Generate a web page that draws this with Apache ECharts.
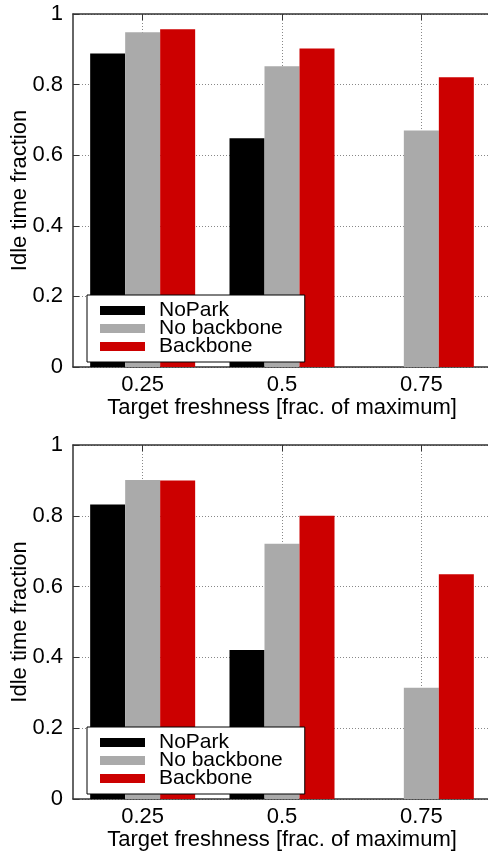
<!DOCTYPE html>
<html>
<head>
<meta charset="utf-8">
<title>Idle time fraction vs. target freshness</title>
<script src="https://cdn.jsdelivr.net/npm/echarts@6/dist/echarts.min.js"></script>
<style>
  html, body { margin: 0; padding: 0; background: #fff; }
  #chart { width: 488px; height: 851px; }
</style>
</head>
<body>
<div id="chart"></div>
<script>
// Target freshness levels (x positions of the bar groups)
const freshness = [0.25, 0.5, 0.75];
const xTicks = [0.25, 0.5, 0.75];
const yTicks = [0, 0.2, 0.4, 0.6, 0.8, 1];

const seriesNames = ['NoPark', 'No backbone', 'Backbone'];

// Upper panel
const noParkTop = [0.888, 0.648, 0];
const noBackboneTop = [0.948, 0.852, 0.670];
const backboneTop = [0.957, 0.902, 0.821];

// Lower panel
const noParkBottom = [0.832, 0.421, 0];
const noBackboneBottom = [0.901, 0.721, 0.314];
const backboneBottom = [0.900, 0.800, 0.635];

const colors = ['#000000', '#aaaaaa', '#cc0000'];
const FONT = 'Liberation Sans, Arial, Helvetica, sans-serif';
const AXIS_COLOR = '#333333';

const grids = [
  { left: 73, top: 14, width: 418, height: 353, outerBoundsMode: 'none', containLabel: false },
  { left: 73, top: 445, width: 418, height: 354, outerBoundsMode: 'none', containLabel: false }
];

function bottomX(gridIndex) {
  return {
    type: 'value', gridIndex, position: 'bottom',
    min: 0.125, max: 0.875,
    name: 'Target freshness [frac. of maximum]',
    nameLocation: 'middle', nameGap: 30, nameMoveOverlap: false,
    nameTextStyle: { fontFamily: FONT, fontSize: 22, color: '#000' },
    axisLine: { show: true, lineStyle: { color: AXIS_COLOR, width: 1.5 } },
    axisTick: { show: true, inside: true, length: 6, customValues: xTicks,
                lineStyle: { color: AXIS_COLOR, width: 1 } },
    axisLabel: { show: true, customValues: xTicks, margin: 7,
                 fontFamily: FONT, fontSize: 22, color: '#000',
                 formatter: v => String(v) },
    splitLine: { show: true, lineStyle: { color: '#888', width: 1, type: [1, 2] } }
  };
}

function topX(gridIndex) {
  return {
    type: 'value', gridIndex, position: 'top',
    min: 0.125, max: 0.875,
    axisLine: { show: true, lineStyle: { color: AXIS_COLOR, width: 1.5 } },
    axisTick: { show: true, inside: true, length: 6, customValues: xTicks,
                lineStyle: { color: AXIS_COLOR, width: 1 } },
    axisLabel: { show: false },
    splitLine: { show: false }
  };
}

function leftY(gridIndex) {
  return {
    type: 'value', gridIndex,
    min: 0, max: 1, interval: 0.2,
    name: 'Idle time fraction',
    nameLocation: 'middle', nameGap: 42, nameMoveOverlap: false,
    nameTextStyle: { fontFamily: FONT, fontSize: 22, color: '#000' },
    axisLine: { show: true, lineStyle: { color: AXIS_COLOR, width: 1.5 } },
    axisTick: { show: true, inside: true, length: 6,
                lineStyle: { color: AXIS_COLOR, width: 1 } },
    axisLabel: { margin: 10, fontFamily: FONT, fontSize: 22, color: '#000',
                 formatter: v => (yTicks.includes(+v.toFixed(1)) ? String(+v.toFixed(1)) : '') },
    splitLine: { show: true, lineStyle: { color: '#888', width: 1, type: [1, 2] } }
  };
}

function barSeries(name, values, color, axisIdx) {
  return {
    name, type: 'bar',
    xAxisIndex: axisIdx, yAxisIndex: axisIdx,
    data: freshness.map((x, i) => [x, values[i]]),
    barWidth: 35, barGap: '0%',
    itemStyle: { color },
    emphasis: { disabled: true },
    silent: true,
    z: 2
  };
}

function legendFor(top) {
  return {
    orient: 'vertical',
    left: 87, top,
    data: seriesNames,
    icon: 'rect',
    itemWidth: 45, itemHeight: 9, itemGap: -3,
    padding: [5, 22, 5, 13],
    backgroundColor: '#fff',
    borderColor: '#000', borderWidth: 1,
    textStyle: { fontFamily: FONT, fontSize: 21, color: '#000',
                 padding: [0, 0, 0, 9] },
    selectedMode: false,
    z: 10
  };
}

const chart = echarts.init(document.getElementById('chart'), null, { renderer: 'canvas' });
chart.setOption({
  animation: false,
  backgroundColor: '#fff',
  grid: grids,
  xAxis: [bottomX(0), bottomX(1), topX(0), topX(1)],
  yAxis: [leftY(0), leftY(1)],
  legend: [legendFor(295), legendFor(727)],
  series: [
    barSeries(seriesNames[0], noParkTop, colors[0], 0),
    barSeries(seriesNames[1], noBackboneTop, colors[1], 0),
    barSeries(seriesNames[2], backboneTop, colors[2], 0),
    barSeries(seriesNames[0], noParkBottom, colors[0], 1),
    barSeries(seriesNames[1], noBackboneBottom, colors[1], 1),
    barSeries(seriesNames[2], backboneBottom, colors[2], 1)
  ]
});
</script>
</body>
</html>
